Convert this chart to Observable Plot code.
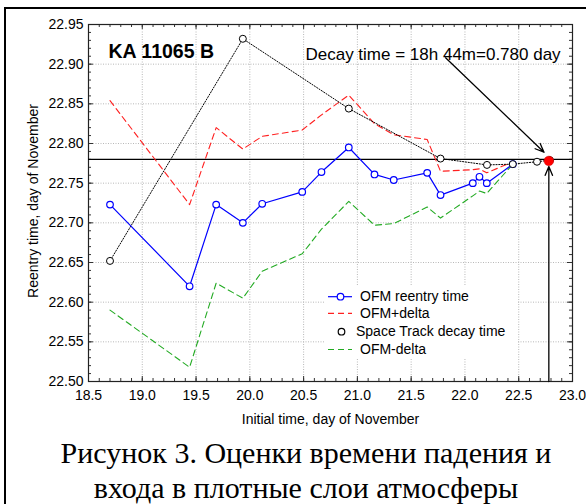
<!DOCTYPE html>
<html>
<head>
<meta charset="utf-8">
<script src="https://cdn.jsdelivr.net/npm/d3@7"></script>
<script src="https://cdn.jsdelivr.net/npm/@observablehq/plot@0.6"></script>
<style>
  html, body { margin: 0; padding: 0; background: white; overflow: hidden; width: 586px; height: 504px; }
  #page { position: relative; width: 586px; height: 504px; overflow: hidden; }
  #border { position: absolute; left: 4px; top: 7px; width: 700px; height: 700px; border-left: 2px solid #000; border-top: 2px solid #000; }
  #chart { position: absolute; left: 0; top: 0; }
  #legend { position: absolute; left: 0; top: 0; pointer-events: none; }
  #caption { position: absolute; left: 0; top: 435px; width: 612px; text-align: center;
    font-family: "Liberation Serif", "Times New Roman", serif; font-size: 30px; line-height: 35px; color: #000; }
</style>
</head>
<body>
<div id="page">
  <div id="border"></div>
  <div id="chart"></div>
  <svg id="legend" width="586" height="504"></svg>
  <div id="caption">Рисунок 3. Оценки времени падения и<br>входа в плотные слои атмосферы</div>
</div>
<script>
// ---- data ----
const initialTime = [18.70, 19.44, 19.687, 19.935, 20.115, 20.487, 20.666, 20.92, 21.159, 21.338, 21.649, 21.773, 22.073, 22.135, 22.203, 22.445];
const ofmReentry  = [22.723, 22.620, 22.723, 22.700, 22.724, 22.739, 22.764, 22.795, 22.761, 22.754, 22.763, 22.735, 22.750, 22.758, 22.750, 22.774];
const ofmPlus     = [22.854, 22.723, 22.820, 22.793, 22.809, 22.817, 22.836, 22.861, 22.825, 22.811, 22.805, 22.765, 22.767, 22.768, 22.763, 22.777];
const ofmMinus    = [22.590, 22.518, 22.624, 22.605, 22.639, 22.661, 22.692, 22.727, 22.697, 22.699, 22.720, 22.706, 22.734, 22.740, 22.737, 22.774];

const spaceTrackX = [18.70, 19.935, 20.92, 21.773, 22.205, 22.445, 22.67, 22.79];
const spaceTrackY = [22.652, 22.932, 22.844, 22.781, 22.773, 22.774, 22.777, 22.779];

const decayTime = 22.78;           // 18h 44m = 0.780 day
const decayPointY = [22.778];

const xTicks = [18.5, 19.0, 19.5, 20.0, 20.5, 21.0, 21.5, 22.0, 22.5, 23.0];
const yTicks = [22.50, 22.55, 22.60, 22.65, 22.70, 22.75, 22.80, 22.85, 22.90, 22.95];

const titleText = "KA 11065 B";
const decayText = "Decay time = 18h 44m=0.780 day";
const xLabel = "Initial time, day of November";
const yLabel = "Reentry time, day of November";

// annotation anchors (data coordinates)
const textArrow = [{x1: 21.82, y1: 22.908, x2: 22.735, y2: 22.789}];
const upArrow = [{x1: decayTime, y1: 22.50, x2: decayTime, y2: 22.771}];
const titlePos = [{x: 18.686, y: 22.908, t: titleText}];
const decayPos = [{x: 20.517, y: 22.905, t: decayText}];

// ---- build ----
const W = 586, H = 436;
const mL = 88, mR = 14, mT = 24, mB = 55;
const plotW = W - mL - mR, plotH = H - mT - mB;

const rows = initialTime.map((x, i) => ({x, ofm: ofmReentry[i], plus: ofmPlus[i], minus: ofmMinus[i]}));
const st = spaceTrackX.map((x, i) => ({x, y: spaceTrackY[i]}));

const xMinor = d3.range(185, 231).map(d => d / 10);
const yMinor = d3.range(2250, 2296).map(d => d / 100);

const grid = {stroke: "#b8b8b8", strokeDasharray: "1,1.5", strokeWidth: 1};

const chart = Plot.plot({
  width: W, height: H,
  marginLeft: mL, marginRight: mR, marginTop: mT, marginBottom: mB,
  style: {fontFamily: "'Liberation Sans', Arial, sans-serif", fontSize: "14px", color: "#000", background: "transparent"},
  x: {domain: [18.5, 23.0], ticks: xTicks, tickFormat: d => d.toFixed(1), tickSize: 0, tickPadding: 9, label: null},
  y: {domain: [22.50, 22.95], ticks: yTicks, tickFormat: d => d.toFixed(2), tickSize: 0, tickPadding: 5, label: null},
  marks: [
    Plot.ruleX(xTicks.slice(1, -1), grid),
    Plot.ruleY(yTicks.slice(1, -1), grid),
    // minor and major ticks, inward on all sides
    Plot.tickX(xMinor, {x: d => d, insetTop: plotH - 3, stroke: "#333"}),
    Plot.tickX(xMinor, {x: d => d, insetBottom: plotH - 3, stroke: "#333"}),
    Plot.tickX(xTicks, {x: d => d, insetTop: plotH - 5, stroke: "#333"}),
    Plot.tickX(xTicks, {x: d => d, insetBottom: plotH - 5, stroke: "#333"}),
    Plot.tickY(yMinor, {y: d => d, insetRight: plotW - 3, stroke: "#333"}),
    Plot.tickY(yMinor, {y: d => d, insetLeft: plotW - 3, stroke: "#333"}),
    Plot.tickY(yTicks, {y: d => d, insetRight: plotW - 5, stroke: "#333"}),
    Plot.tickY(yTicks, {y: d => d, insetLeft: plotW - 5, stroke: "#333"}),
    Plot.frame({stroke: "#222", strokeWidth: 1.2}),
    // decay-time reference line
    Plot.ruleY([decayTime], {stroke: "#000", strokeWidth: 1.2}),
    // series
    Plot.line(rows, {x: "x", y: "plus", stroke: "#ff2020", strokeWidth: 1.1, strokeDasharray: "6,4"}),
    Plot.line(rows, {x: "x", y: "minus", stroke: "#22aa22", strokeWidth: 1.1, strokeDasharray: "6,4"}),
    Plot.line(st, {x: "x", y: "y", stroke: "#000", strokeWidth: 1, strokeDasharray: "1.2,1.6"}),
    Plot.line(rows, {x: "x", y: "ofm", stroke: "#0000ff", strokeWidth: 1.2}),
    Plot.dot(rows, {x: "x", y: "ofm", r: 3.3, stroke: "#0000ff", fill: "white", strokeWidth: 1.2}),
    Plot.dot(st, {x: "x", y: "y", r: 3.5, stroke: "#000", fill: "white", strokeWidth: 1}),
    Plot.dot(decayPointY, {x: () => decayTime, y: d => d, r: 4.8, fill: "#ff0000", stroke: "#cc0000", strokeWidth: 0.5}),
    // arrows
    Plot.arrow(textArrow, {x1: "x1", y1: "y1", x2: "x2", y2: "y2", stroke: "#000", strokeWidth: 1.3, headLength: 11, headAngle: 45}),
    Plot.arrow(upArrow, {x1: "x1", y1: "y1", x2: "x2", y2: "y2", stroke: "#000", strokeWidth: 1.3, headLength: 11, headAngle: 45}),
    // texts
    Plot.text(titlePos, {x: "x", y: "y", text: "t", textAnchor: "start", lineAnchor: "bottom", fontSize: 19.5, fontWeight: "bold", fill: "#000"}),
    Plot.text(decayPos, {x: "x", y: "y", text: "t", textAnchor: "start", lineAnchor: "bottom", fontSize: 17, fill: "#000"}),
    Plot.text([xLabel], {frameAnchor: "bottom", dy: 42, textAnchor: "middle", text: d => d, fontSize: 14, fill: "#000"}),
    Plot.text([yLabel], {frameAnchor: "left", dx: -55, dy: -2, textAnchor: "middle", rotate: -90, text: d => d, fontSize: 14, fill: "#000"})
  ]
});
document.getElementById("chart").appendChild(chart);

// ---- legend (layout overlay) ----
const legendItems = [
  {label: "OFM reentry time", color: "#0000ff", dash: null, marker: true, line: true, ly: 296.7, base: 300.7, tx: 360},
  {label: "OFM+delta", color: "#ff2020", dash: "6,4", marker: false, line: true, ly: 313.3, base: 317.5, tx: 360},
  {label: "Space Track decay time", color: "#000", dash: null, marker: true, line: false, ly: 331.7, base: 336, tx: 356},
  {label: "OFM-delta", color: "#22aa22", dash: "6,4", marker: false, line: true, ly: 349.5, base: 354, tx: 360}
];
const ns = "http://www.w3.org/2000/svg";
const lg = document.getElementById("legend");
function el(name, attrs) { const e = document.createElementNS(ns, name); for (const k in attrs) e.setAttribute(k, attrs[k]); lg.appendChild(e); return e; }
el("rect", {x: 324, y: 286, width: 194, height: 73, fill: "white"});
for (const it of legendItems) {
  if (it.line) el("line", {x1: 328, x2: 352, y1: it.ly, y2: it.ly, stroke: it.color, "stroke-width": 1.2, "stroke-dasharray": it.dash || "none"});
  if (it.marker) el("circle", {cx: it.line ? 340.5 : 341.5, cy: it.ly, r: 3.3, fill: "white", stroke: it.color, "stroke-width": 1.2});
  const t = el("text", {x: it.tx, y: it.base, "font-family": "'Liberation Sans', Arial, sans-serif", "font-size": 14, fill: "#000"});
  t.textContent = it.label;
}
</script>
</body>
</html>
